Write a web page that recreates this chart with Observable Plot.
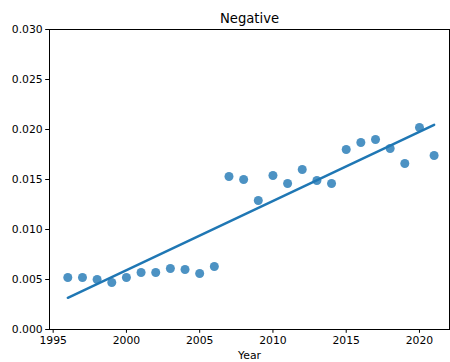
<!DOCTYPE html>
<html>
<head>
<meta charset="utf-8">
<script src="https://cdn.jsdelivr.net/npm/d3@7"></script>
<script src="https://cdn.jsdelivr.net/npm/@observablehq/plot@0.6"></script>
<style>
  html, body { margin: 0; padding: 0; background: white; }
</style>
</head>
<body>
<div id="chart"></div>
<script>
const years = [1996, 1997, 1998, 1999, 2000, 2001, 2002, 2003, 2004, 2005, 2006, 2007, 2008,
               2009, 2010, 2011, 2012, 2013, 2014, 2015, 2016, 2017, 2018, 2019, 2020, 2021];
const values = [0.0052, 0.0052, 0.0050, 0.0047, 0.0052, 0.0057, 0.0057, 0.0061, 0.0060, 0.0056, 0.0063, 0.0153, 0.0150,
                0.0129, 0.0154, 0.0146, 0.0160, 0.0149, 0.0146, 0.0180, 0.0187, 0.0190, 0.0181, 0.0166, 0.0202, 0.0174];
const xTicks = [1995, 2000, 2005, 2010, 2015, 2020];
const yTicks = [0, 0.005, 0.010, 0.015, 0.020, 0.025, 0.030];
const titleText = "Negative";
const xLabel = "Year";

const data = years.map((y, i) => ({Year: y, value: values[i]}));
const color = "#1f77b4";

const chart = Plot.plot({
  width: 450,
  height: 362,
  marginLeft: 49,
  marginRight: 1,
  marginTop: 29,
  marginBottom: 33,
  style: {fontFamily: "DejaVu Sans", fontSize: "10.8px", background: "white", color: "black"},
  x: {domain: [1994.75, 2022.05]},
  y: {domain: [0, 0.030]},
  marks: [
    Plot.frame({stroke: "black", strokeWidth: 1}),
    Plot.axisX({ticks: xTicks, tickFormat: "d", tickSize: 3.8, tickPadding: 3, label: xLabel,
                labelAnchor: "center", labelArrow: "none", labelOffset: 29, fontSize: 10.8}),
    Plot.axisY({ticks: yTicks, tickFormat: ".3f", tickSize: 3.8, tickPadding: 3, label: null, fontSize: 10.8}),
    Plot.dot(data, {x: "Year", y: "value", r: 4.5, fill: color, fillOpacity: 0.8, stroke: "none"}),
    Plot.linearRegressionY(data, {x: "Year", y: "value", stroke: color, strokeWidth: 2.5, ci: 0}),
    Plot.text([titleText], {frameAnchor: "top", dy: -7, lineAnchor: "bottom", fontSize: 13.2, fill: "black"})
  ]
});
document.getElementById("chart").appendChild(chart);
</script>
</body>
</html>
